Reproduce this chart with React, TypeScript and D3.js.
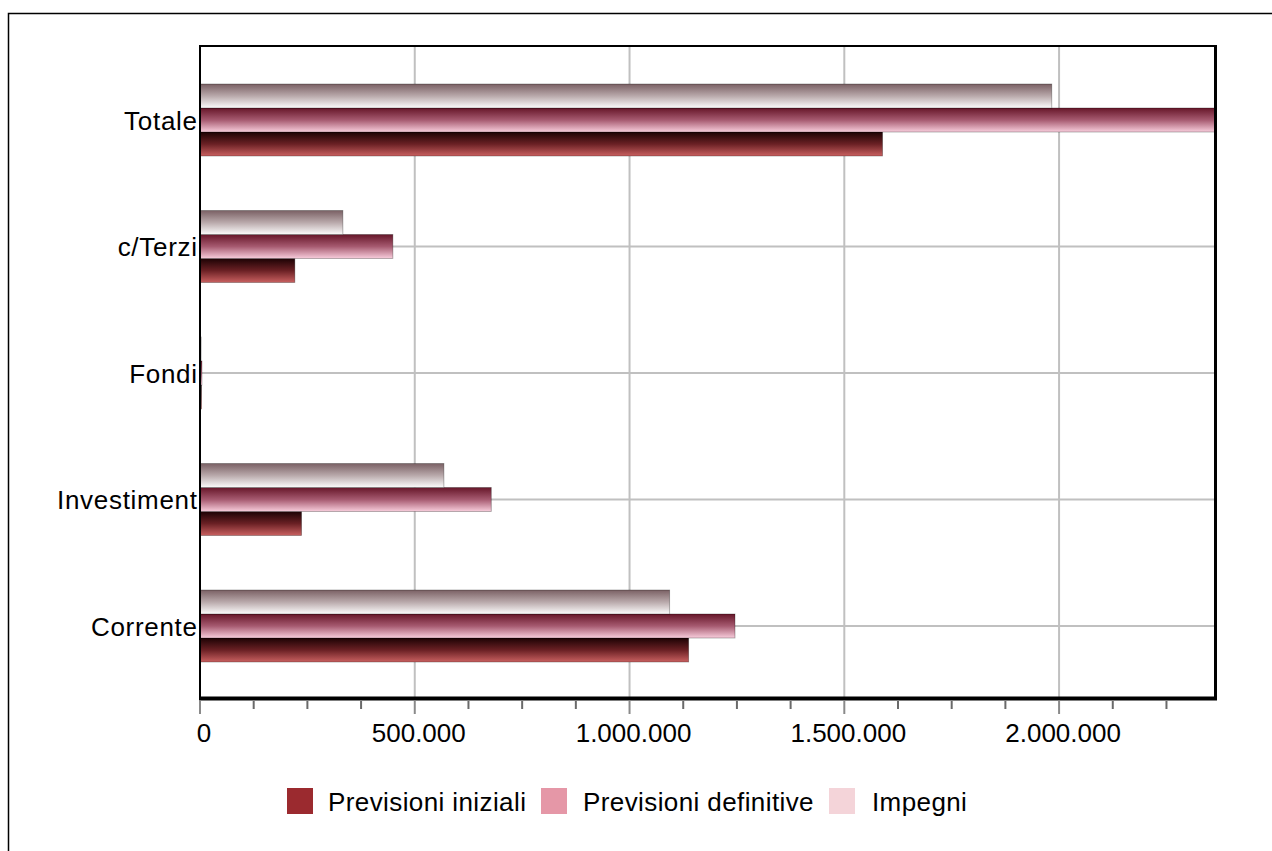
import React from "react";
import * as d3 from "d3";

const categories = ["Totale", "c/Terzi", "Fondi", "Investiment", "Corrente"];
const seriesNames = ["Previsioni iniziali", "Previsioni definitive", "Impegni"];
const previsioniIniziali = [1589000, 220800, 3500, 236400, 1137600];
const previsioniDefinitive = [2372000, 449000, 4500, 678100, 1245500];
const impegni = [1983000, 332600, 2500, 567800, 1093400];
const xTicks = [0, 500000, 1000000, 1500000, 2000000];
const xMinorStep = 125000;
const xMax = 2363000;

const legendColors = ["#9b2a2f", "#e597a7", "#f4d4d9"];
const gradients = [
  ["#1c0204", "#6a2024", "#c96060"],
  ["#661629", "#a65a70", "#f8cddc"],
  ["#7a6064", "#b9a9ab", "#fcfcfc"],
];

const seriesValues = [previsioniIniziali, previsioniDefinitive, impegni];

const W = 1272;
const H = 851;
const plot = { left: 200, right: 1215, top: 46, bottom: 698 };
const FONT = "'Liberation Sans', Arial, sans-serif";

const fmt = (v: number) =>
  v === 0 ? "0" : d3.format(",")(v).replace(/,/g, ".");

export default function App() {
  const x = d3
    .scaleLinear()
    .domain([0, xMax])
    .range([plot.left, plot.right])
    .clamp(true);
  const y = d3
    .scaleBand<string>()
    .domain(categories)
    .range([56.75, 689.25])
    .padding(0);
  // series order top-to-bottom within a group: Impegni, Def, Iniziali
  const inner = d3
    .scaleBand<string>()
    .domain([seriesNames[2], seriesNames[1], seriesNames[0]])
    .range([-36, 36])
    .padding(0);

  const minorTicks = d3.range(0, xMax + 1, xMinorStep);
  const center = (c: string) => (y(c) as number) + y.bandwidth() / 2;

  return (
    <svg
      width={W}
      height={H}
      style={{ position: "absolute", left: 0, top: 0, background: "#fff" }}
      fontFamily={FONT}
    >
      <defs>
        {gradients.map((g, i) => (
          <linearGradient key={i} id={`grad${i}`} x1="0" y1="0" x2="0" y2="1">
            <stop offset="0%" stopColor={g[0]} />
            <stop offset="50%" stopColor={g[1]} />
            <stop offset="100%" stopColor={g[2]} />
          </linearGradient>
        ))}
      </defs>
      <rect x={0} y={0} width={W} height={H} fill="#fff" />
      {/* outer border */}
      <rect x={8.5} y={13.5} width={W + 20} height={H + 20} fill="none" stroke="#000" strokeWidth={1.5} />

      {/* vertical gridlines */}
      {xTicks.filter((t) => t > 0).map((t) => (
        <line key={`vg${t}`} x1={x(t)} x2={x(t)} y1={plot.top} y2={plot.bottom} stroke="#c0c0c0" strokeWidth={2} />
      ))}
      {/* horizontal gridlines */}
      {categories.map((c) => (
        <line key={`hg${c}`} x1={plot.left} x2={plot.right} y1={center(c)} y2={center(c)} stroke="#c0c0c0" strokeWidth={2} />
      ))}

      {/* bars */}
      {categories.map((c, ci) =>
        seriesNames.map((s, si) => {
          const v = seriesValues[si][ci];
          const by = center(c) + (inner(s) as number);
          return (
            <rect
              key={`${c}-${s}`}
              x={x(0)}
              y={by}
              width={Math.max(0, x(v) - x(0))}
              height={inner.bandwidth()}
              fill={`url(#grad${si})`}
              stroke="rgba(0,0,0,0.35)"
              strokeWidth={0.8}
            />
          );
        })
      )}

      {/* plot frame */}
      <line x1={plot.left} x2={plot.right} y1={plot.top} y2={plot.top} stroke="#000" strokeWidth={2} />
      <line x1={plot.left} x2={plot.left} y1={plot.top - 1} y2={plot.bottom + 1} stroke="#000" strokeWidth={2} />
      <line x1={plot.right + 0.5} x2={plot.right + 0.5} y1={plot.top - 1} y2={plot.bottom + 2} stroke="#000" strokeWidth={3} />
      <line x1={plot.left - 1} x2={plot.right + 2} y1={plot.bottom + 0.5} y2={plot.bottom + 0.5} stroke="#000" strokeWidth={4} />

      {/* x ticks */}
      {minorTicks.map((t) => {
        const major = xTicks.includes(t);
        return (
          <line
            key={`t${t}`}
            x1={x(t)}
            x2={x(t)}
            y1={plot.bottom + 3}
            y2={plot.bottom + (major ? 16 : 11)}
            stroke={major ? "#8a8a8a" : "#6a6a6a"}
            strokeWidth={2}
          />
        );
      })}
      {xTicks.map((t) => (
        <text key={`xl${t}`} x={x(t) + 4} y={742} textAnchor="middle" fontSize={26} fill="#000">
          {fmt(t)}
        </text>
      ))}

      {/* category labels */}
      {categories.map((c) => (
        <text key={`cl${c}`} x={197.7} y={center(c) + 9.5} textAnchor="end" fontSize={26} letterSpacing={0.7} fill="#000">
          {c}
        </text>
      ))}

      {/* legend */}
      {[
        { sx: 287, tx: 328 },
        { sx: 541, tx: 583 },
        { sx: 829, tx: 872 },
      ].map((p, i) => (
        <g key={`lg${i}`}>
          <rect x={p.sx} y={788} width={26} height={26} fill={legendColors[i]} />
          <text x={p.tx} y={811} fontSize={26} letterSpacing={0.4} fill="#000">
            {seriesNames[i]}
          </text>
        </g>
      ))}
    </svg>
  );
}
